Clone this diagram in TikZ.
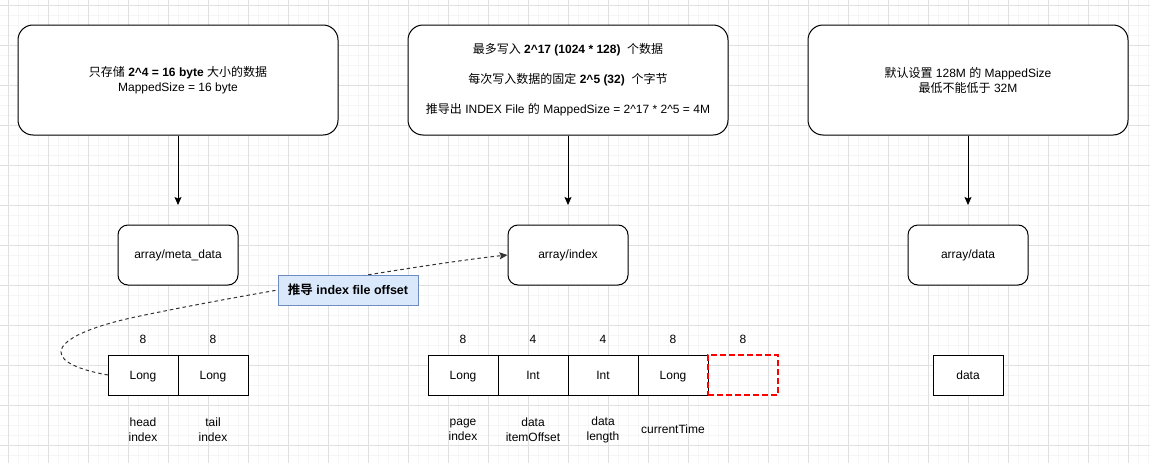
\documentclass[tikz,border=0pt]{standalone}
\usepackage{fontspec}
\setmainfont{Liberation Sans}
\newfontfamily\cjk{Noto Sans CJK SC}[BoldFont={Noto Sans CJK SC Bold}]
\usetikzlibrary{arrows.meta,calc,positioning}

\begin{document}
\begin{tikzpicture}[x=1pt,y=-1pt,>={Stealth[length=8pt,width=7pt,inset=1.5pt]},
    font=\fontsize{12}{15}\selectfont,
    note/.style={draw,line width=1pt,rounded corners=15pt,fill=white,
        minimum width=320pt,minimum height=110pt,align=center},
    arr/.style={draw,line width=1pt,rounded corners=10pt,fill=white,
        minimum width=120pt,minimum height=60pt},
    cell/.style={draw,line width=1pt,fill=white,outer sep=0pt,text depth=0pt,
        minimum width=70pt,minimum height=40pt},
    gap/.style={draw=red,line width=2pt,dash pattern=on 6pt off 3pt,outer sep=0pt,
        minimum width=70pt,minimum height=40pt},
    tag/.style={draw=tagline,fill=tagfill,line width=1pt,
        minimum width=140pt,minimum height=30pt,font=\fontsize{12.5}{15}\selectfont\bfseries},
    field/.style={align=center}]
    \definecolor{gridmajor}{RGB}{224,224,224}
    \definecolor{gridminor}{RGB}{246,246,246}
    \definecolor{tagfill}{HTML}{DAE8FC}
    \definecolor{tagline}{HTML}{6C8EBF}
    \useasboundingbox (0,0) rectangle (1150,463);
    \fill[white] (0,0) rectangle (1150,463);

    % grid
    \foreach \gx in {8,18,...,1148} \draw[gridminor,line width=1pt] (\gx,0) -- (\gx,463);
    \foreach \gy in {5,15,...,460} \draw[gridminor,line width=1pt] (0,\gy) -- (1150,\gy);
    \foreach \gx in {8,48,...,1148} \draw[gridmajor,line width=1pt] (\gx,0) -- (\gx,463);
    \foreach \gy in {5,45,...,460} \draw[gridmajor,line width=1pt] (0,\gy) -- (1150,\gy);

    % top notes
    \node[note] (N1) at (178,80) {{\cjk 只存储} \textbf{2\textasciicircum4 = 16 byte} {\cjk 大小的数据}\\MappedSize = 16 byte};
    \node[note] (N2) at (568,80) {{\cjk 最多写入} \textbf{2\textasciicircum17 (1024 * 128)}\ \ {\cjk 个数据}\\[15pt]
        {\cjk 每次写入数据的固定} \textbf{2\textasciicircum5 (32)}\ \ {\cjk 个字节}\\[15pt]
        {\cjk 推导出} INDEX File {\cjk 的} MappedSize = 2\textasciicircum17 * 2\textasciicircum5 = 4M};
    \node[note] (N3) at (968,80) {{\cjk 默认设置} 128M {\cjk 的} MappedSize\\{\cjk 最低不能低于} 32M};

    % files
    \node[arr] (meta) at (178,255) {array/meta\_data};
    \node[arr] (idx) at (568,255) {array/index};
    \node[arr] (dat) at (968,255) {array/data};

    \coordinate (M1) at (178,205);
    \coordinate (M2) at (568,205);
    \coordinate (M3) at (968,205);
    \draw[->,line width=1pt] (N1.south) -- (M1);
    \draw[->,line width=1pt] (N2.south) -- (M2);
    \draw[->,line width=1pt] (N3.south) -- (M3);

    % meta_data layout
    \node[cell] (head) at (143,375) {Long};
    \node[cell,right=0pt of head] (tail) {Long};
    \node (headsz) at ($(head.north)+(0,-16)$) {8};
    \node (tailsz) at ($(tail.north)+(0,-16)$) {8};
    \node[field] (headlb) at ($(head.south)+(0,35)$) {head\\index};
    \node[field] (taillb) at ($(tail.south)+(0,35)$) {tail\\index};

    % index layout
    \node[cell] (page) at (463,375) {Long};
    \node[cell,right=0pt of page] (offs) {Int};
    \node[cell,right=0pt of offs] (len) {Int};
    \node[cell,right=0pt of len] (time) {Long};
    \node[gap,right=0pt of time] (pad) {};
    \foreach \c/\s in {page/8,offs/4,len/4,time/8,pad/8}
        \node (\c sz) at ($(\c.north)+(0,-16)$) {\s};
    \node[field] (pagelb) at ($(page.south)+(0,35)$) {page\\index};
    \node[field] (offslb) at ($(offs.south)+(0,35)$) {data\\itemOffset};
    \node[field] (lenlb) at ($(len.south)+(0,35)$) {data\\length};
    \node (timelb) at ($(time.south)+(0,34)$) {currentTime};

    % data layout
    \node[cell] (raw) at (968,375) {data};

    % head index -> index file
    \coordinate (bend) at (140,316);
    \draw[->,line width=1pt,black!80,dash pattern=on 3.5pt off 3pt]
        (head.west) .. controls (35,362) and (48,335) .. (bend)
        .. controls (250,293) and (440,262) .. (idx.west);
    \node[tag] (hint) at (348,290) {{\cjk 推导} index file offset};
\end{tikzpicture}
\end{document}
